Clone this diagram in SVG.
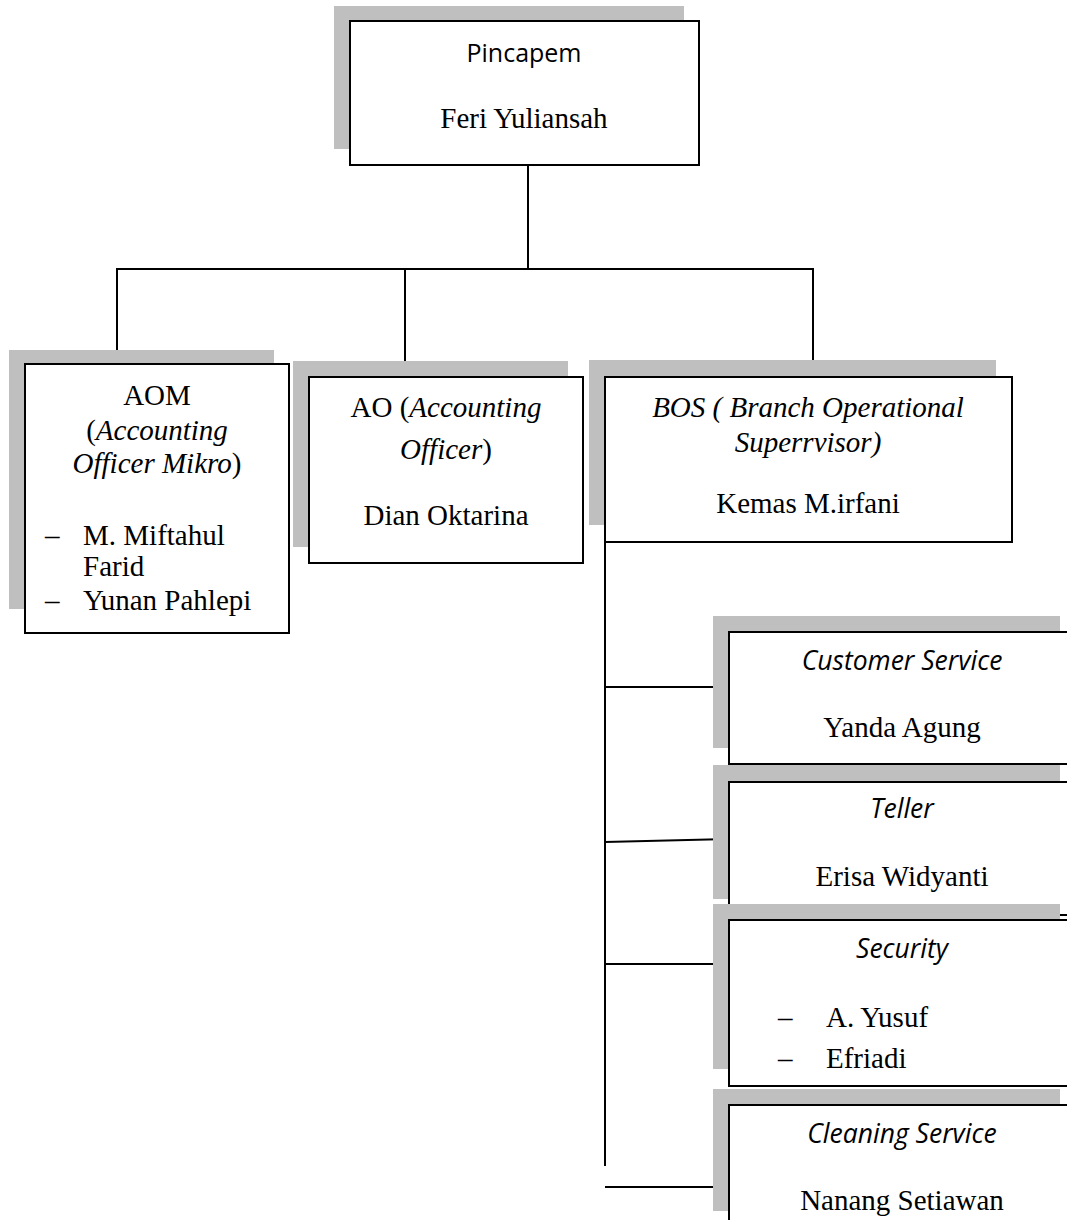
<svg xmlns="http://www.w3.org/2000/svg" width="1067" height="1220" viewBox="0 0 1067 1220">
<style>
.sh{fill:#bfbfbf;stroke:none}
.bx{fill:#fff;stroke:#000;stroke-width:2}
.ln{stroke:#000;stroke-width:2;fill:none}
.t{font-family:"Liberation Serif","Times New Roman",serif;font-size:29px;fill:#000}
.c{font-family:"Open Sans","Liberation Sans",sans-serif;font-size:25px;fill:#000}
.ci{font-size:26.5px;font-style:italic}
.m{text-anchor:middle}
.i{font-style:italic}
</style>
<rect width="1067" height="1220" fill="#fff"/>
<g id="connectors">
<line class="ln" x1="528" y1="165" x2="528" y2="269"/>
<line class="ln" x1="117" y1="269" x2="814" y2="269"/>
<line class="ln" x1="117" y1="268" x2="117" y2="363"/>
<line class="ln" x1="405" y1="269" x2="405" y2="363"/>
<line class="ln" x1="813" y1="268" x2="813" y2="361"/>
<line class="ln" x1="605" y1="542" x2="605" y2="1166"/>
<line class="ln" x1="605" y1="687" x2="729" y2="687"/>
<line class="ln" x1="605" y1="842" x2="729" y2="839"/>
<line class="ln" x1="605" y1="964" x2="729" y2="964"/>
<line class="ln" x1="605" y1="1187" x2="729" y2="1187"/>
</g>
<g id="pincapem">
<rect class="sh" x="334" y="6" width="350" height="143"/>
<rect class="bx" x="350" y="21" width="349" height="144"/>
<text class="c m" x="524" y="62">Pincapem</text>
<text class="t m" x="524" y="128">Feri Yuliansah</text>
</g>
<g id="aom">
<rect class="sh" x="9" y="350" width="265" height="259"/>
<rect class="bx" x="25" y="364" width="264" height="269"/>
<text class="t m" x="157" y="405">AOM</text>
<text class="t m" x="157" y="440">(<tspan class="i">Accounting</tspan></text>
<text class="t m" x="157" y="473"><tspan class="i">Officer Mikro</tspan>)</text>
<text class="t" x="45" y="545">–</text>
<text class="t" x="83" y="545">M. Miftahul</text>
<text class="t" x="83" y="576">Farid</text>
<text class="t" x="45" y="610">–</text>
<text class="t" x="83" y="610">Yunan Pahlepi</text>
</g>
<g id="ao">
<rect class="sh" x="293" y="361" width="275" height="186"/>
<rect class="bx" x="309" y="377" width="274" height="186"/>
<text class="t m" x="446" y="417">AO (<tspan class="i">Accounting</tspan></text>
<text class="t m" x="446" y="459"><tspan class="i">Officer</tspan>)</text>
<text class="t m" x="446" y="525">Dian Oktarina</text>
</g>
<g id="bos">
<rect class="sh" x="589" y="360" width="407" height="165"/>
<rect class="bx" x="605" y="377" width="407" height="165"/>
<text class="t m i" x="808" y="417">BOS ( Branch Operational</text>
<text class="t m i" x="808" y="452">Superrvisor)</text>
<text class="t m" x="808" y="513">Kemas M.irfani</text>
</g>
<g id="customer-service">
<rect class="sh" x="713" y="616" width="347" height="132"/>
<rect class="bx" x="729" y="632" width="350" height="132"/>
<text class="c ci m" x="902" y="670">Customer Service</text>
<text class="t m" x="902" y="737">Yanda Agung</text>
</g>
<g id="teller">
<rect class="sh" x="713" y="765" width="347" height="134"/>
<rect class="bx" x="729" y="782" width="350" height="133"/>
<text class="c ci m" x="902" y="818">Teller</text>
<text class="t m" x="902" y="886">Erisa Widyanti</text>
</g>
<g id="security">
<rect class="sh" x="713" y="904" width="347" height="165"/>
<rect class="bx" x="729" y="920" width="350" height="166"/>
<text class="c ci m" x="902" y="958">Security</text>
<text class="t" x="778" y="1027">–</text>
<text class="t" x="826" y="1027">A. Yusuf</text>
<text class="t" x="778" y="1068">–</text>
<text class="t" x="826" y="1068">Efriadi</text>
</g>
<g id="cleaning-service">
<rect class="sh" x="713" y="1089" width="347" height="122"/>
<rect class="bx" x="729" y="1105" width="350" height="130"/>
<text class="c ci m" x="902" y="1143">Cleaning Service</text>
<text class="t m" x="902" y="1210">Nanang Setiawan</text>
</g>
</svg>
